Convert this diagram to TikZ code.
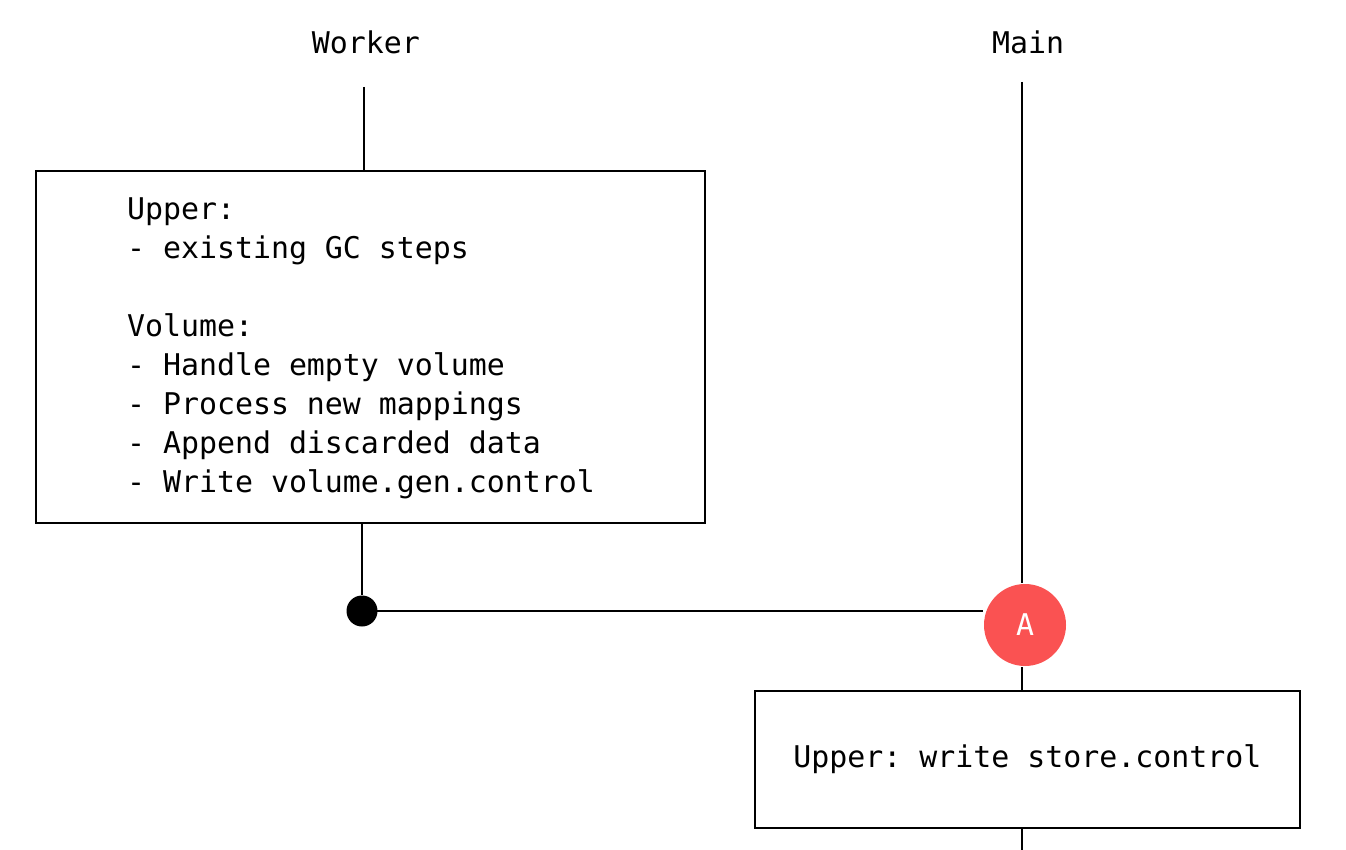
\documentclass[tikz,border=0pt]{standalone}
\usepackage{fontspec}
\setmonofont{DejaVu Sans Mono}
\usetikzlibrary{positioning}
\definecolor{sketchred}{HTML}{FA5252}
\tikzset{
  lane/.style={font=\ttfamily\fontsize{29.9}{39}\selectfont},
  stepbox/.style={draw=black,line width=2pt,rectangle,inner sep=0pt,
    font=\ttfamily\fontsize{29.9}{39}\selectfont},
  syncdot/.style={circle,fill=black,inner sep=0pt,minimum size=31pt},
  marker/.style={circle,fill=sketchred,inner sep=0pt,minimum size=82pt,
    text=white,font=\ttfamily\fontsize{29.9}{39}\selectfont},
}
\begin{document}
\begin{tikzpicture}[x=1pt,y=-1pt]
    \useasboundingbox (0,0) rectangle (1346,850);
    \begin{scope}[line width=2pt]

    % lanes
    \node[lane] (worker) at (366,42) {Worker};
    \node[lane] (main) at (1028,42) {Main};
    \coordinate (workerTop) at (364,87);
    \coordinate (mainTop) at (1022,82);
    \coordinate (mainEnd) at (1022,850);

    % steps
    \node[stepbox,minimum width=669pt,minimum height=352pt] (upper) at (370.5,347) {};
    \node[lane,align=left,anchor=west,inner sep=0pt] (upperText) at ([xshift=91pt,yshift=-1pt]upper.west)
      {Upper:\\- existing GC steps\\[39pt]Volume:\\- Handle empty volume\\- Process new mappings\\- Append discarded data\\- Write volume.gen.control};
    \node[stepbox,minimum width=545pt,minimum height=137pt] (store) at (1027.5,759.5)
      {Upper: write store.control};

    \node[syncdot] (dot) at (362,611) {};
    \node[marker] (sA) at (1025,625) {A};

    % connectors
    \draw (workerTop) -- (workerTop |- upper.north);
    \draw (upper.south -| dot) -- (dot);
    \draw (dot.center) -- (sA.west |- dot.center);
    \draw (mainTop) -- (mainTop |- sA.north);
    \draw (mainTop |- sA.south) -- (mainTop |- store.north);
    \draw (mainTop |- store.south) -- (mainEnd);

    \end{scope}
\end{tikzpicture}
\end{document}
